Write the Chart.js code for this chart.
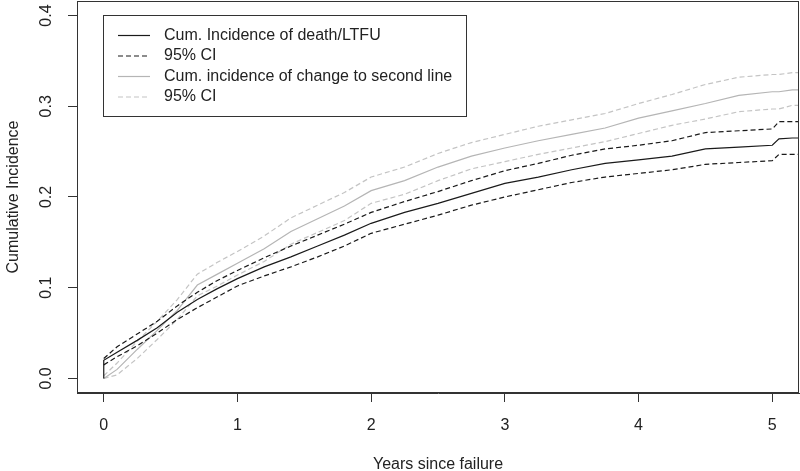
<!DOCTYPE html>
<html>
<head>
<meta charset="utf-8">
<script src="https://cdn.jsdelivr.net/npm/chart.js@4.4.0/dist/chart.umd.min.js"></script>
<style>
  html, body { margin: 0; padding: 0; background: #ffffff; }
  #wrap { width: 800px; height: 471px; }
</style>
</head>
<body>
<div id="wrap"><canvas id="chart"></canvas></div>
<script>
const years = [0, 0, 0.1, 0.25, 0.4, 0.55, 0.7, 0.85, 1.0, 1.2, 1.4, 1.6, 1.8, 2.0, 2.25, 2.5, 2.75, 3.0, 3.25, 3.5, 3.75, 4.0, 4.25, 4.5, 4.75, 5.0, 5.05, 5.15, 5.2];

const deathMain = [0, 0.02, 0.029, 0.042, 0.056, 0.073, 0.087, 0.099, 0.110, 0.123, 0.134, 0.146, 0.158, 0.171, 0.183, 0.193, 0.204, 0.215, 0.222, 0.230, 0.237, 0.241, 0.245, 0.253, 0.255, 0.257, 0.264, 0.265, 0.265];
const deathUpper = [0.022, 0.022, 0.035, 0.049, 0.063, 0.080, 0.095, 0.108, 0.119, 0.133, 0.146, 0.158, 0.170, 0.183, 0.195, 0.206, 0.218, 0.229, 0.237, 0.246, 0.253, 0.257, 0.262, 0.271, 0.273, 0.275, 0.283, 0.283, 0.283];
const deathLower = [0.015, 0.015, 0.024, 0.036, 0.050, 0.065, 0.078, 0.090, 0.102, 0.113, 0.123, 0.134, 0.146, 0.160, 0.170, 0.180, 0.191, 0.200, 0.208, 0.216, 0.222, 0.226, 0.230, 0.236, 0.238, 0.240, 0.247, 0.247, 0.247];

const switchMain = [0, 0, 0.010, 0.032, 0.053, 0.075, 0.103, 0.115, 0.127, 0.143, 0.162, 0.176, 0.190, 0.207, 0.218, 0.233, 0.245, 0.254, 0.262, 0.269, 0.276, 0.287, 0.295, 0.303, 0.312, 0.316, 0.316, 0.318, 0.318];
const switchUpper = [0.003, 0.003, 0.017, 0.041, 0.063, 0.087, 0.115, 0.128, 0.140, 0.157, 0.177, 0.191, 0.205, 0.222, 0.233, 0.248, 0.260, 0.269, 0.278, 0.285, 0.292, 0.303, 0.313, 0.324, 0.332, 0.335, 0.335, 0.337, 0.337];
const switchLower = [0, 0, 0.004, 0.022, 0.043, 0.065, 0.091, 0.102, 0.114, 0.129, 0.148, 0.161, 0.174, 0.193, 0.203, 0.218, 0.231, 0.239, 0.247, 0.254, 0.261, 0.270, 0.279, 0.286, 0.294, 0.297, 0.297, 0.301, 0.301];

const xTicks = [0, 1, 2, 3, 4, 5];
const yTicks = [0, 0.1, 0.2, 0.3, 0.4];

const FONT = "'Liberation Sans', Arial, sans-serif";
const TEXT_COLOR = "#222222";
const BLACK = "#1a1a1a";
const GREY_SOLID = "#b5b5b5";
const GREY_DASH = "#c4c4c4";

function toPoints(values) {
  return values.map((v, i) => ({ x: years[i], y: v }));
}

function lineSet(label, values, color, dashed, inLegend) {
  return {
    label,
    data: toPoints(values),
    borderColor: color,
    borderWidth: 1.2,
    borderDash: dashed ? [5, 3] : [],
    pointRadius: 0,
    tension: 0,
    fill: false,
    inLegend
  };
}

// box round the plot, rotated y labels and the legend, R style
const rStylePlugin = {
  id: "rStyle",
  afterDraw(chart) {
    const { ctx, chartArea, scales } = chart;
    ctx.save();
    ctx.strokeStyle = "#333333";
    ctx.lineWidth = 1;
    ctx.setLineDash([]);
    ctx.strokeRect(chartArea.left + 0.5, chartArea.top + 0.5,
      chartArea.right - chartArea.left - 1, chartArea.bottom - chartArea.top - 1);

    ctx.fillStyle = TEXT_COLOR;
    ctx.font = `16px ${FONT}`;
    ctx.textAlign = "center";
    ctx.textBaseline = "middle";
    yTicks.forEach((v) => {
      const py = scales.y.getPixelForValue(v);
      ctx.save();
      ctx.translate(47, py);
      ctx.rotate(-Math.PI / 2);
      ctx.fillText(v.toFixed(1), 0, 0);
      ctx.restore();
    });

    const boxLeft = 103;
    const boxTop = 15;
    const boxRight = 466;
    const boxBottom = 116;
    ctx.fillStyle = "#ffffff";
    ctx.fillRect(boxLeft, boxTop, boxRight - boxLeft, boxBottom - boxTop);
    ctx.strokeStyle = "#333333";
    ctx.strokeRect(boxLeft + 0.5, boxTop + 0.5, boxRight - boxLeft, boxBottom - boxTop);

    const items = chart.data.datasets.filter((ds) => ds.inLegend);
    items.forEach((ds, i) => {
      const rowY = 35.5 + i * 20.5;
      ctx.strokeStyle = ds.borderColor;
      ctx.lineWidth = ds.borderWidth;
      ctx.setLineDash(ds.borderDash);
      ctx.beginPath();
      ctx.moveTo(118, rowY);
      ctx.lineTo(150, rowY);
      ctx.stroke();
      ctx.setLineDash([]);
      ctx.fillStyle = TEXT_COLOR;
      ctx.textAlign = "left";
      ctx.fillText(ds.label, 164, rowY);
    });
    ctx.restore();
  }
};

new Chart(document.getElementById("chart"), {
  type: "line",
  data: {
    datasets: [
      lineSet("Cum. Incidence of death/LTFU", deathMain, BLACK, false, true),
      lineSet("95% CI", deathUpper, BLACK, true, true),
      lineSet("95% CI", deathLower, BLACK, true, false),
      lineSet("Cum. incidence of change to second line", switchMain, GREY_SOLID, false, true),
      lineSet("95% CI", switchUpper, GREY_DASH, true, true),
      lineSet("95% CI", switchLower, GREY_DASH, true, false)
    ]
  },
  options: {
    responsive: true,
    maintainAspectRatio: false,
    animation: false,
    devicePixelRatio: 1,
    layout: { padding: { top: 1, right: 1, left: 0, bottom: 0 } },
    plugins: {
      legend: { display: false },
      tooltip: { enabled: false }
    },
    scales: {
      x: {
        type: "linear",
        min: -0.2,
        max: 5.2,
        afterBuildTicks(scale) {
          scale.ticks = xTicks.map((v) => ({ value: v }));
        },
        afterFit(scale) {
          scale.height = 78;
        },
        grid: {
          drawOnChartArea: false,
          drawTicks: true,
          tickLength: 9,
          color: "#333333"
        },
        border: { display: true, color: "#333333" },
        ticks: {
          autoSkip: false,
          maxRotation: 0,
          padding: 14,
          color: TEXT_COLOR,
          font: { family: FONT, size: 16 },
          callback: (v) => String(v)
        },
        title: {
          display: true,
          text: "Years since failure",
          color: TEXT_COLOR,
          font: { family: FONT, size: 16 },
          padding: { top: 0, bottom: -3 }
        }
      },
      y: {
        type: "linear",
        min: -0.016,
        max: 0.416,
        afterBuildTicks(scale) {
          scale.ticks = yTicks.map((v) => ({ value: v }));
        },
        afterFit(scale) {
          scale.width = 77;
        },
        grid: {
          drawOnChartArea: false,
          drawTicks: true,
          tickLength: 9,
          color: "#333333"
        },
        border: { display: true, color: "#333333" },
        ticks: {
          display: false
        },
        title: {
          display: true,
          text: "Cumulative Incidence",
          color: TEXT_COLOR,
          font: { family: FONT, size: 16 },
          padding: { top: 4, bottom: 0 }
        }
      }
    }
  },
  plugins: [rStylePlugin]
});
</script>
</body>
</html>
